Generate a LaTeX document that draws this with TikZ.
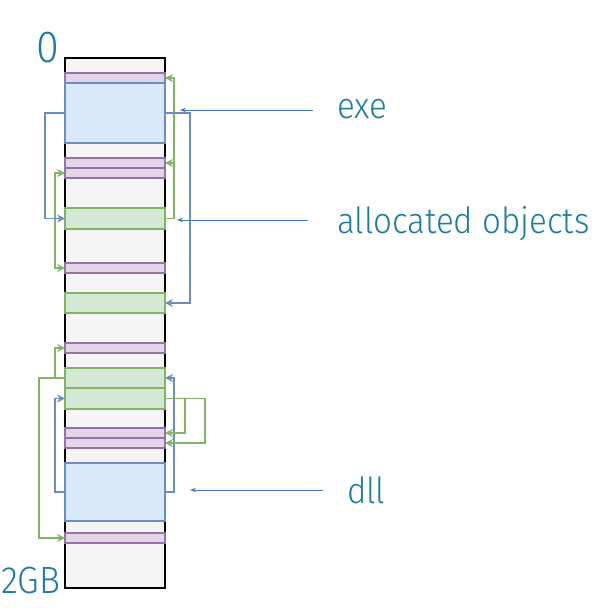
\documentclass[tikz,border=0pt]{standalone}
\usepackage{fontspec}
\setmainfont{Fira Sans}[UprightFont=* Light, FakeStretch=0.92]
\usepackage{tikz}
\usetikzlibrary{arrows.meta, positioning}
\usepackage{xcolor}

\definecolor{freefill}{HTML}{F5F5F5}
\definecolor{blkfill}{HTML}{E1D5E7}
\definecolor{blkline}{HTML}{9673A6}
\definecolor{modfill}{HTML}{DAE8FC}
\definecolor{modline}{HTML}{6C8EBF}
\definecolor{objfill}{HTML}{D5E8D4}
\definecolor{objline}{HTML}{82B366}
\definecolor{lbltext}{RGB}{30,125,155}
\definecolor{ptrline}{RGB}{70,120,190}

\begin{document}
\begin{tikzpicture}[
  x=1pt, y=-1pt,
  node distance=0pt,
  cell/.style={rectangle, inner sep=0pt, outer sep=0pt, minimum width=100pt, minimum height=#1},
  memfree/.style={cell=#1, fill=freefill},
  memblk/.style={cell=10pt, fill=blkfill},
  memmod/.style={cell=#1, fill=modfill},
  memobj/.style={cell=#1, fill=objfill},
  gconn/.style={draw=objline, line width=1.4pt, -{Stealth[length=8pt, width=8pt]}},
  bconn/.style={draw=modline, line width=1.4pt, -{Stealth[length=8pt, width=8pt]}},
  ptr/.style={draw=ptrline, line width=0.9pt, -{Stealth[length=6pt, width=4.5pt]}, shorten <=24pt},
  lbl/.style={text=lbltext, font=\fontsize{36}{40}\selectfont, inner sep=0pt, anchor=base west}
]
\useasboundingbox (0,0) rectangle (600,610);

% address space, top to bottom
\node[memfree=15pt, anchor=north] (free1) at (115,58) {};
\node[memblk, below=of free1] (blk1) {};
\node[memmod=60pt, below=of blk1] (exe) {};
\node[memfree=15pt, below=of exe] (free2) {};
\node[memblk, below=of free2] (blk2) {};
\node[memblk, below=of blk2] (blk3) {};
\node[memfree=30pt, below=of blk3] (free3) {};
\node[memobj=21pt, below=of free3] (obj1) {};
\node[memfree=34pt, below=of obj1] (free4) {};
\node[memblk, below=of free4] (blk4) {};
\node[memfree=20pt, below=of blk4] (free5) {};
\node[memobj=20pt, below=of free5] (obj2) {};
\node[memfree=30pt, below=of obj2] (free6) {};
\node[memblk, below=of free6] (blk5) {};
\node[memfree=15pt, below=of blk5] (free7) {};
\node[memobj=20pt, below=of free7] (obj3) {};
\node[memobj=21pt, below=of obj3] (obj4) {};
\node[memfree=19pt, below=of obj4] (free8) {};
\node[memblk, below=of free8] (blk6) {};
\node[memblk, below=of blk6] (blk7) {};
\node[memfree=15pt, below=of blk7] (free9) {};
\node[memmod=58pt, below=of free9] (dll) {};
\node[memfree=12pt, below=of dll] (free10) {};
\node[memblk, below=of free10] (blk8) {};
\node[memfree=45pt, below=of blk8] (free11) {};

\draw[black, line width=1.8pt] (free1.north west) rectangle (free11.south east);
\foreach \n/\c in {blk1/blkline, exe/modline, blk2/blkline, blk3/blkline, obj1/objline,
  blk4/blkline, obj2/objline, blk5/blkline, obj3/objline, obj4/objline, blk6/blkline,
  blk7/blkline, dll/modline, blk8/blkline}
  \draw[draw=\c, line width=1.3pt] (\n.north west) rectangle (\n.south east);

% references between blocks
\draw[gconn] (obj1.east) -- ++(9,0) |- (blk1.east);
\draw[gconn] (obj1.east) -- ++(9,0) |- (blk2.east);
\draw[gconn] (obj1.west) -- ++(-10,0) |- (blk3.west);
\draw[gconn] (obj1.west) -- ++(-10,0) |- (blk4.west);
\draw[bconn] (exe.west) -- ++(-20,0) |- (obj1.west);
\draw[bconn] (exe.east) -- ++(25,0) |- (obj2.east);
\draw[gconn] (obj3.west) -- ++(-10,0) |- (blk5.west);
\draw[gconn] (obj3.west) -- ++(-26,0) |- (blk8.west);
\draw[bconn] (dll.west) -- ++(-10,0) |- (obj4.west);
\draw[bconn] (dll.east) -- ++(9,0) |- (obj3.east);
\draw[gconn] (obj4.east) -- ++(20,0) |- (blk6.east);
\draw[gconn] (obj4.east) -- ++(40,0) |- (blk7.east);

% labels
\node[lbl, font=\fontsize{45}{50}\selectfont] (top) at (36,63) {0};
\node[lbl, font=\fontsize{38}{40}\selectfont] (bottom) at (1,593) {2GB};
\node[lbl] (exelbl) at (337,118) {exe};
\node[lbl] (objlbl) at (337,233) {allocated objects};
\node[lbl] (dlllbl) at (347,503) {dll};
\coordinate (exeptr) at (180,110);
\coordinate (objptr) at (177,220);
\coordinate (dllptr) at (190,490);
\draw[ptr] (exeptr -| exelbl.west) -- (exeptr);
\draw[ptr, shorten <=29pt] (objptr -| objlbl.west) -- (objptr);
\draw[ptr] (dllptr -| dlllbl.west) -- (dllptr);
\end{tikzpicture}
\end{document}
